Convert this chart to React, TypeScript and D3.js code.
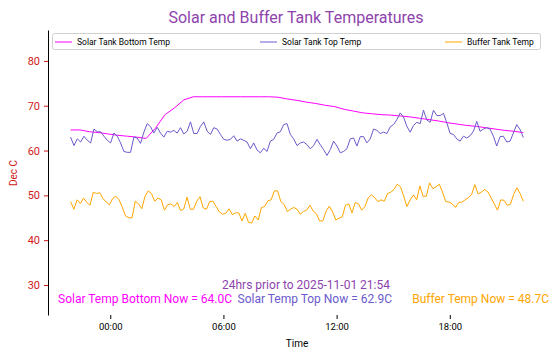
import * as d3 from "d3";
import React, { useEffect, useRef } from "react";

const width = 558;
const height = 358;

// 24 hours of readings, evenly spaced from start to end
const startTime = new Date(2025, 9, 31, 21, 54);
const endTime = new Date(2025, 10, 1, 21, 54);

const solarBottom = [
  64.6, 64.6, 64.2, 64.0, 63.7, 63.4, 63.2, 63.0, 62.7, 65.0, 68.0, 69.5, 71.3,
  72.0, 72.0, 72.0, 72.0, 72.0, 72.0, 72.0, 72.0, 72.0, 71.9, 71.5, 71.2, 70.8,
  70.5, 70.1, 69.8, 69.2, 68.8, 68.4, 68.2, 68.0, 67.9, 67.7, 67.5, 67.2, 66.9,
  66.6, 66.2, 65.9, 65.6, 65.4, 65.1, 64.8, 64.5, 64.3, 64.0,
];

const solarTop = [
  63.0, 61.1, 62.6, 61.9, 63.2, 62.3, 61.7, 64.8, 64.2, 64.2, 63.2, 62.3, 61.7,
  63.9, 63.2, 61.7, 59.8, 59.6, 59.6, 63.0, 62.8, 61.6, 64.1, 66.0, 65.3, 63.9,
  65.2, 63.9, 63.0, 64.3, 64.1, 64.5, 63.9,
  65.1, 63.7, 64.3, 66.4, 63.8, 63.8, 65.4, 66.4, 64.3, 63.6, 65.1, 64.8, 63.6,
  62.5, 62.3, 62.5, 63.3, 62.1, 62.6, 62.3, 61.9, 60.4, 61.7, 60.1, 59.5, 60.5,
  59.8, 62.1, 62.5, 63.9, 64.2, 65.8, 66.0, 63.6, 62.6, 61.1,
  61.7, 61.9, 61.3, 60.4, 61.1, 62.5, 61.3, 60.2, 58.9, 60.2, 62.1, 61.0, 59.5,
  59.8, 60.4, 62.6, 62.8, 61.0, 63.1, 63.1, 61.7, 62.6, 64.8, 64.5, 63.8, 64.1,
  63.8, 65.3, 65.8, 66.9, 68.4, 67.5, 65.4, 64.1,
  65.6, 66.3, 66.0, 69.0, 66.8, 66.3, 69.0, 67.8, 67.8, 68.3, 66.2, 63.8, 63.6,
  62.6, 62.1, 63.2, 62.8, 63.3, 64.3, 66.5, 64.3, 64.8, 65.1, 64.8, 63.2, 61.0,
  63.1, 63.2, 61.9, 62.1, 63.9, 65.8, 64.7, 62.9,
];

const bufferTank = [
  48.6, 46.9, 49.0, 48.2, 49.4, 48.4, 47.8, 50.7, 50.4, 50.6, 49.3, 48.5, 47.9,
  49.3, 49.8, 49.0, 47.3, 45.4, 45.0, 45.0, 48.7, 48.1, 47.0, 49.8, 51.0, 50.4,
  48.7, 49.4, 49.0, 46.7, 47.9, 48.1, 47.5, 48.4, 46.6, 47.0, 49.6, 46.9, 46.9,
  48.7, 49.7, 47.2, 46.9, 48.6, 48.7, 47.5, 46.3, 45.8, 46.0, 47.0, 45.7, 46.1,
  46.1, 44.3, 46.0, 44.0, 43.8, 45.4, 44.5, 47.3, 47.5, 48.8, 49.0, 51.0, 51.0,
  48.6,
  48.0, 46.4, 46.9, 47.3, 46.9, 45.8, 46.4, 46.7, 47.8, 46.5, 45.9, 44.3, 44.3,
  46.5, 47.6, 46.3, 44.5, 44.9, 45.2, 47.8, 48.1, 46.1, 48.4, 48.1, 46.7, 47.5,
  49.4, 50.1, 49.5, 48.6, 49.0, 48.7, 50.4, 50.7, 51.3, 52.5, 51.9, 49.8, 47.5,
  49.0, 50.1, 49.0, 52.1, 49.8, 49.8, 52.8, 51.5, 51.9, 52.5, 50.7, 48.6, 48.5,
  48.1, 47.3, 48.4, 48.5, 49.0, 49.5, 50.2, 52.4, 50.3, 50.7, 51.3, 50.8, 49.5,
  48.1, 46.7, 49.0, 48.9, 47.8, 48.0, 50.2, 51.7, 50.4, 48.7,
];

const series = [
  { name: "Solar Tank Bottom Temp", values: solarBottom, color: "#ff00ff" },
  { name: "Solar Tank Top Temp", values: solarTop, color: "#6a5acd" },
  { name: "Buffer Tank Temp", values: bufferTank, color: "#ffa500" },
];

const yTicks = [30, 40, 50, 60, 70, 80];
const yLimits = [23.3, 86.9];
const axisRed = "#d01818";

export default function App() {
  const holderRef = useRef<HTMLDivElement | null>(null);

  useEffect(() => {
    const holder = holderRef.current;
    if (!holder || holder.hasChildNodes()) return;

    const margin = { top: 30, right: 12, bottom: 43, left: 48 };
    const span = endTime.getTime() - startTime.getTime();
    const pad = span * 0.05;

    const x = d3
      .scaleTime()
      .domain([new Date(startTime.getTime() - pad), new Date(endTime.getTime() + pad)])
      .range([margin.left, width - margin.right]);
    const y = d3
      .scaleLinear()
      .domain(yLimits)
      .range([height - margin.bottom, margin.top]);

    const svg = d3
      .select(holder)
      .append("svg")
      .attr("width", width)
      .attr("height", height)
      .attr("style", "position:absolute;left:0;top:0;font-family:Roboto, sans-serif;");

    svg.append("rect").attr("width", width).attr("height", height).attr("fill", "white");

    // title
    svg
      .append("text")
      .attr("x", 296)
      .attr("y", 23)
      .attr("text-anchor", "middle")
      .attr("font-size", 16)
      .attr("fill", "#8e44ad")
      .text("Solar and Buffer Tank Temperatures");

    // lines
    const timeAt = (i: number, n: number) =>
      new Date(startTime.getTime() + (span * i) / (n - 1));

    series.forEach((s) => {
      const line = d3
        .line<number>()
        .x((d, i) => x(timeAt(i, s.values.length)))
        .y((d) => y(d));
      svg
        .append("path")
        .attr("d", line(s.values))
        .attr("fill", "none")
        .attr("stroke", s.color)
        .attr("stroke-width", 1);
    });

    // y axis (left spine only)
    const yAxis = svg
      .append("g")
      .attr("transform", `translate(${margin.left},0)`)
      .call(d3.axisLeft(y).tickValues(yTicks).tickSize(4).tickPadding(4).tickSizeOuter(0));
    yAxis.select(".domain").attr("stroke", "black");
    yAxis.selectAll(".tick line").attr("stroke", axisRed);
    yAxis
      .selectAll(".tick text")
      .attr("fill", axisRed)
      .attr("font-size", 11)
      .attr("font-family", "Roboto, sans-serif");

    svg
      .append("text")
      .attr("transform", `translate(17,${y(55)}) rotate(-90)`)
      .attr("text-anchor", "middle")
      .attr("font-size", 10)
      .attr("fill", axisRed)
      .text("Dec C");

    // x axis (ticks only, no spine)
    const xAxis = svg
      .append("g")
      .attr("transform", `translate(0,${height - margin.bottom})`)
      .call(
        d3
          .axisBottom(x)
          .ticks(d3.timeHour.every(6))
          .tickFormat((d) => d3.timeFormat("%H:%M")(d as Date))
          .tickSize(4)
          .tickPadding(4)
      );
    xAxis.select(".domain").remove();
    xAxis
      .selectAll(".tick text")
      .attr("font-size", 9.5)
      .attr("font-family", "Roboto, sans-serif")
      .attr("fill", "black");

    svg
      .append("text")
      .attr("x", x(new Date((startTime.getTime() + endTime.getTime()) / 2)))
      .attr("y", 347)
      .attr("text-anchor", "middle")
      .attr("font-size", 10)
      .attr("fill", "black")
      .text("Time");

    // legend
    const legend = svg.append("g");
    legend
      .append("rect")
      .attr("x", 52.5)
      .attr("y", 33.5)
      .attr("width", 488)
      .attr("height", 16)
      .attr("rx", 2)
      .attr("fill", "white")
      .attr("stroke", "#d0d0d0");
    const legendX = [55, 260, 445];
    series.forEach((s, i) => {
      legend
        .append("line")
        .attr("x1", legendX[i])
        .attr("x2", legendX[i] + 17)
        .attr("y1", 42)
        .attr("y2", 42)
        .attr("stroke", s.color)
        .attr("stroke-width", 1);
      legend
        .append("text")
        .attr("x", legendX[i] + 22)
        .attr("y", 45)
        .attr("font-size", 8.5)
        .attr("fill", "black")
        .text(s.name);
    });

    // notes at the bottom of the plot
    svg
      .append("text")
      .attr("x", 306)
      .attr("y", 289)
      .attr("text-anchor", "middle")
      .attr("font-size", 12)
      .attr("fill", "#8e44ad")
      .text(`24hrs prior to ${d3.timeFormat("%Y-%m-%d %H:%M")(endTime)}`);

    const notes = [
      { label: "Solar Temp Bottom Now", value: solarBottom[solarBottom.length - 1], color: "#ff00ff", x: 58, anchor: "start" },
      { label: "Solar Temp Top Now", value: solarTop[solarTop.length - 1], color: "#6a5acd", x: 237.5, anchor: "start" },
      { label: "Buffer Temp Now", value: bufferTank[bufferTank.length - 1], color: "#ffa500", x: 549, anchor: "end" },
    ];
    notes.forEach((n) => {
      svg
        .append("text")
        .attr("x", n.x)
        .attr("y", 303)
        .attr("text-anchor", n.anchor)
        .attr("font-size", 12)
        .attr("fill", n.color)
        .text(`${n.label} = ${n.value.toFixed(1)}C`);
    });
  }, []);

  return <div ref={holderRef} />;
}
